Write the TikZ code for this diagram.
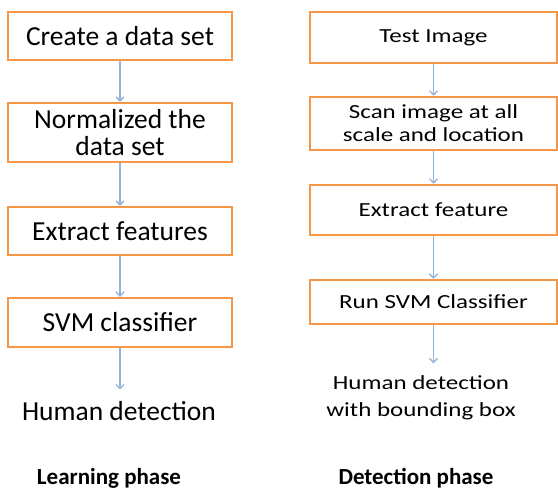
\documentclass[tikz,border=0pt]{standalone}
\usepackage{fontspec}
\setmainfont{Carlito}
\newfontfamily\WideFont[FakeStretch=1.25]{Carlito}
\usetikzlibrary{arrows.meta}
\definecolor{BoxOrange}{HTML}{F79646}
\definecolor{FlowBlue}{HTML}{95B3D7}

\begin{document}
\begin{tikzpicture}[x=1pt,y=-1pt,
				% orange step boxes and thin blue connectors
				stepbox/.style={draw=BoxOrange, line width=2.5pt, fill=white, inner sep=0pt, align=center},
				leftbox/.style={stepbox, minimum width=\LeftWidth pt, font=\fontsize{27.5}{27}\selectfont},
				rightbox/.style={stepbox, minimum width=\RightWidth pt, font=\WideFont\fontsize{20}{23}\selectfont},
				flow/.style={draw=FlowBlue, line width=1.3pt, -{Straight Barb[length=4pt,width=8pt]}},
				phase/.style={anchor=base, font=\bfseries\fontsize{23}{25}\selectfont}
				]
				\pgfmathsetmacro{\LeftWidth}{224}
				\pgfmathsetmacro{\RightWidth}{247}
				\useasboundingbox (0,0) rectangle (558,490);
				% learning phase
				\node[leftbox, minimum height=48pt] (CreateSet) at (120,36) {Create a data set};
				\node[leftbox, minimum height=59pt] (Normalize) at (120,132.5) {Normalized the\\data set};
				\node[leftbox, minimum height=48pt] (ExtractLeft) at (120,231) {Extract features};
				\node[leftbox, minimum height=49pt] (SvmLeft) at (120,322.5) {SVM classifier};
				\node[anchor=base, font=\fontsize{27.5}{27}\selectfont] (HumanLeft) at (119,420) {Human detection};
				\draw[flow] (CreateSet) -- (Normalize);
				\draw[flow] (Normalize) -- (ExtractLeft);
				\draw[flow] (ExtractLeft) -- (SvmLeft);
				\draw[flow, shorten >=8pt] (SvmLeft) -- (HumanLeft.north -| SvmLeft);
				% detection phase
				\node[rightbox, minimum height=51pt] (TestImage) at (433.5,37.5) {Test Image};
				\node[rightbox, minimum height=53pt] (ScanImage) at (433.5,123.5) {Scan image at all\\scale and location};
				\node[rightbox, minimum height=50pt] (ExtractRight) at (433.5,210) {Extract feature};
				\node[rightbox, minimum height=44pt] (RunSvm) at (433.5,302) {Run SVM Classifier};
				\node[align=center, font=\WideFont\fontsize{20}{27}\selectfont] (HumanRight) at (421,398) {Human detection\\with bounding box};
				\draw[flow] (TestImage) -- (ScanImage);
				\draw[flow] (ScanImage) -- (ExtractRight);
				\draw[flow] (ExtractRight) -- (RunSvm);
				\draw[flow, shorten >=9pt] (RunSvm) -- (HumanRight.north -| RunSvm);
				\node[phase] (LearnPhase) at (109,484) {Learning phase};
				\node[phase] (DetectPhase) at (416,484) {Detection phase};
			\end{tikzpicture}
\end{document}
